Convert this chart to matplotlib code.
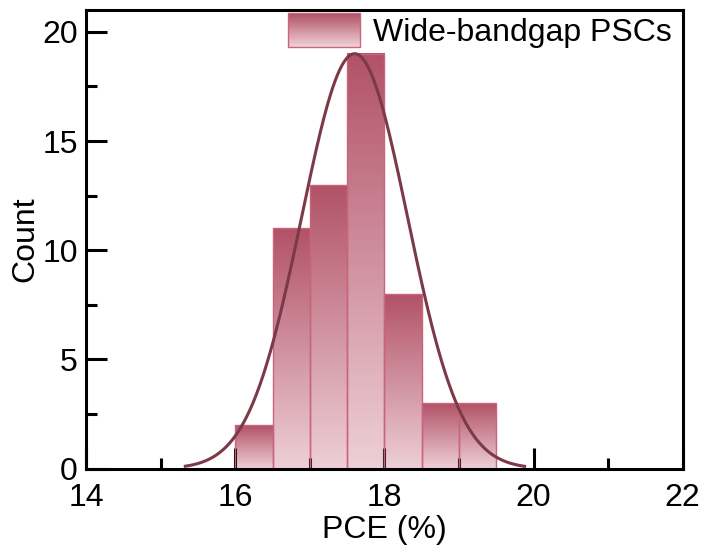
import numpy as np
import matplotlib
matplotlib.use('Agg')
import matplotlib.pyplot as plt
from matplotlib.ticker import MultipleLocator
from matplotlib.colors import LinearSegmentedColormap
from matplotlib.patches import Rectangle
from matplotlib.legend_handler import HandlerBase

# data
bin_edges = [16.0, 16.5, 17.0, 17.5, 18.0, 18.5, 19.0, 19.5]
counts = [2, 11, 13, 19, 8, 3, 3]
# gaussian fit
fit_mu = 17.6
fit_sigma = 0.71
fit_amp = 19.0
fit_range = (15.33, 19.88)
legend_label = 'Wide-bandgap PSCs'

plt.rcParams['font.family'] = ['Liberation Sans', 'DejaVu Sans']

c_top = '#b25267'
c_bot = '#eed0d7'
c_edge = '#c8647c'
c_curve = '#7b3a48'
cmap = LinearSegmentedColormap.from_list('grad', [c_bot, c_top])
grad = np.linspace(0, 1, 256).reshape(-1, 1)

fig = plt.figure(figsize=(7.06, 5.56), dpi=100)
ax = fig.add_axes([0.122, 0.157, 0.845, 0.825])

# gradient bars
for i in range(len(counts)):
    x0, x1 = bin_edges[i], bin_edges[i + 1]
    ax.imshow(grad, extent=[x0, x1, 0, counts[i]], origin='lower', cmap=cmap,
              aspect='auto', zorder=1, interpolation='bilinear')
ax.bar(bin_edges[:-1], counts, width=np.diff(bin_edges), align='edge',
       fill=False, edgecolor=c_edge, linewidth=1.0, zorder=2)

# fit curve
xf = np.linspace(fit_range[0], fit_range[1], 300)
yf = fit_amp * np.exp(-(xf - fit_mu) ** 2 / (2 * fit_sigma ** 2))
ax.plot(xf, yf, color=c_curve, lw=2.2, zorder=3)

ax.set_xlim(14, 22)
ax.set_ylim(0, 21)
ax.xaxis.set_major_locator(MultipleLocator(2))
ax.xaxis.set_minor_locator(MultipleLocator(1))
ax.yaxis.set_major_locator(MultipleLocator(5))
ax.yaxis.set_minor_locator(MultipleLocator(2.5))
ax.tick_params(which='major', direction='in', length=15, width=2.2, labelsize=23)
ax.tick_params(axis='x', which='major', pad=10)
ax.tick_params(axis='y', which='major', pad=6)
ax.tick_params(which='minor', direction='in', length=8, width=2.2)
ax.tick_params(top=False, right=False, which='both')
for sp in ax.spines.values():
    sp.set_linewidth(2.2)
    sp.set_zorder(5)
ax.set_xlabel('PCE (%)', fontsize=23, labelpad=2)
ax.set_ylabel('Count', fontsize=23, labelpad=1)


# legend with gradient patch
class GradHandler(HandlerBase):
    def create_artists(self, legend, orig_handle, xdescent, ydescent, width,
                       height, fontsize, trans):
        arts = []
        n = 40
        for k in range(n):
            t = k / (n - 1)
            r = Rectangle((-xdescent, -ydescent + height * k / n), width,
                          height / n + 0.3, facecolor=cmap(t), edgecolor='none',
                          transform=trans)
            arts.append(r)
        frame = Rectangle((-xdescent, -ydescent), width, height, facecolor='none',
                          edgecolor=c_edge, lw=1.0, transform=trans)
        arts.append(frame)
        return arts


handle = Rectangle((0, 0), 1, 1)
ax.legend([handle], [legend_label], handler_map={Rectangle: GradHandler()},
          loc='upper right', frameon=False, fontsize=23, handlelength=2.26,
          handleheight=1.25, handletextpad=0.4, borderaxespad=0.0, borderpad=0.0,
          bbox_to_anchor=(0.982, 0.993))

fig.savefig('out.png', dpi=100)
